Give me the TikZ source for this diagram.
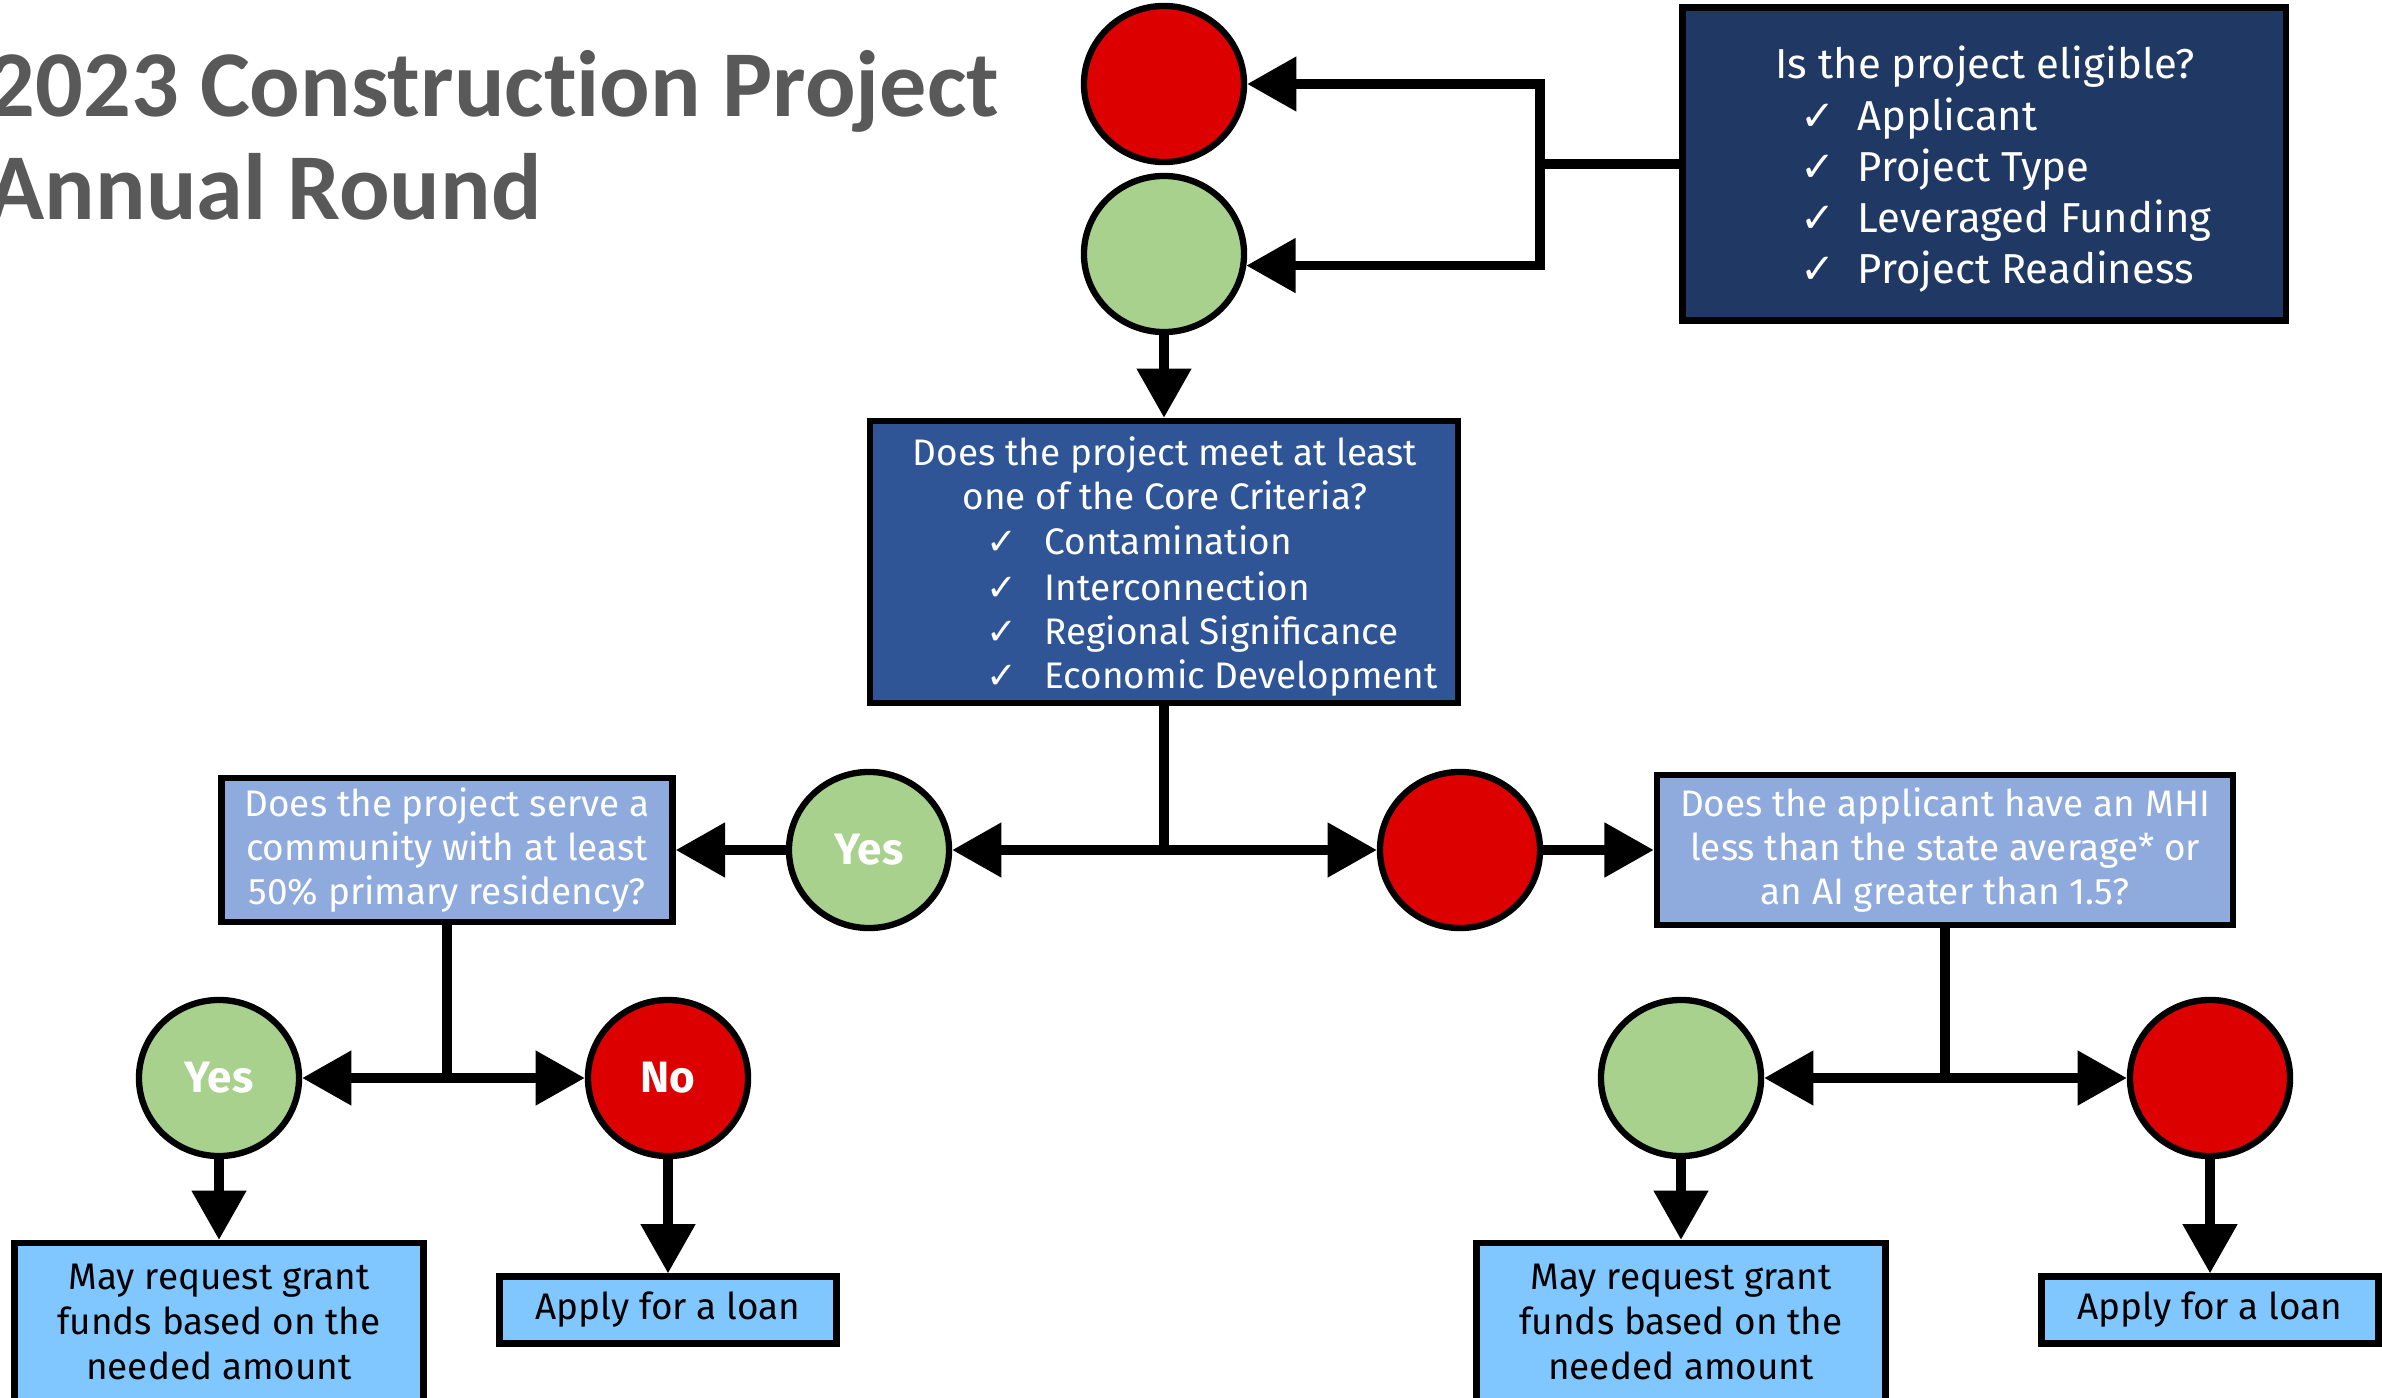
\documentclass[tikz,border=0pt]{standalone}
\usepackage{fontspec}
\setmainfont{Fira Sans}
\newfontfamily\titlefont{Carlito}[Ligatures={NoCommon}]
\newfontfamily\symfont{DejaVu Sans}
\usetikzlibrary{arrows.meta,shapes.geometric,positioning}

\definecolor{navy}{HTML}{203864}
\definecolor{coreblue}{HTML}{2F5597}
\definecolor{paleblue}{HTML}{8FAADC}
\definecolor{skyblue}{HTML}{80C6FF}
\definecolor{okgreen}{HTML}{A9D18E}
\definecolor{nored}{HTML}{DD0000}
\definecolor{titlegrey}{HTML}{595959}

\newcommand{\chk}{{\symfont ✓}}

\tikzset{
  conn/.style={line width=2.6pt},
  arr/.style={conn, -{Triangle[length=14pt,width=15pt]}},
  box/.style={draw=black, line width=1.8pt, rectangle, inner sep=0pt},
  sig/.style={draw=black, line width=1.8pt, ellipse, inner sep=0pt,
    minimum width=1.6cm, minimum height=1.56cm, text=white,
    font=\bfseries\fontsize{12.5}{14}\selectfont},
  title/.style={text=titlegrey, inner sep=0pt,
    font=\titlefont\bfseries\fontsize{26.8}{30}\selectfont},
  eligtext/.style={text=white, inner sep=0pt, font=\fontsize{11.9}{14}\selectfont},
  coretext/.style={text=white, inner sep=0pt, font=\fontsize{10.5}{12.6}\selectfont},
  qbox/.style={box, fill=paleblue, text=white, align=center,
    font=\fontsize{10.5}{12.5}\selectfont},
  endbox/.style={box, fill=skyblue, text=black, align=center,
    font=\fontsize{10.5}{12.66}\selectfont}
}

\begin{document}
\begin{tikzpicture}[x=0.01cm, y=-0.01cm]
  \useasboundingbox (0,0) rectangle (2382,1397);
  \clip (0,0) rectangle (2382,1397);

  % title
  \node[title, anchor=base west] (ttl1) at (-13,117) {2023 Construction Project};
  \node[title, anchor=base west] (ttl2) at (-13,219) {Annual Round};

  % eligibility
  \node[sig, fill=nored] (rtop) at (1164,84) {};
  \node[sig, fill=okgreen] (gtop) at (1164,254) {};
  \node[box, fill=navy, minimum width=6.03cm, minimum height=3.13cm] (elig) at (1984,164) {};
  \node[eligtext, anchor=base] (eligq) at (1985,79) {Is the project eligible?};
  \foreach \y/\crit [count=\i] in {130/Applicant, 182/Project Type, 232/Leveraged Funding, 283/Project Readiness}
    \node[eligtext, anchor=base west] (elig\i) at (1800,\y) {\makebox[0.57cm][l]{\chk}\crit};
  \coordinate (ej) at (1540,164);

  % core criteria
  \node[box, fill=coreblue, minimum width=5.88cm, minimum height=2.82cm] (core) at (1164,562) {};
  \node[coretext, anchor=base] (coreq1) at (1165,465) {Does the project meet at least};
  \node[coretext, anchor=base] (coreq2) at (1165,509) {one of the Core Criteria?};
  \foreach \y/\crit [count=\i] in {554/Contamination, 600/Interconnection, 644/Regional Significance, 688/Economic Development}
    \node[coretext, anchor=base west] (core\i) at (986,\y) {\makebox[0.58cm][l]{\chk}\crit};
  \coordinate (cj) at (1164,850);

  % second row
  \node[sig, fill=okgreen] (yes1) at (869,850) {Yes};
  \node[sig, fill=nored] (red2) at (1460,850) {};
  \node[qbox, minimum width=4.51cm, minimum height=1.44cm] (resid) at (447,850)
    {Does the project serve a\\community with at least\\50\% primary residency?};
  \node[qbox, minimum width=5.76cm, minimum height=1.5cm] (mhi) at (1945,850)
    {Does the applicant have an MHI\\less than the state average* or\\an AI greater than 1.5?};
  \coordinate (lj) at (447,1078);
  \coordinate (rj) at (1945,1078);

  % third row
  \node[sig, fill=okgreen] (yes2) at (219,1078) {Yes};
  \node[sig, fill=nored] (no2) at (668,1078) {No};
  \node[sig, fill=okgreen] (grn3) at (1681,1078) {};
  \node[sig, fill=nored] (red3) at (2210,1078) {};

  % outcomes
  \node[endbox, minimum width=4.09cm, minimum height=1.58cm] (grant1) at (219,1322)
    {May request grant\\funds based on the\\needed amount};
  \node[endbox, minimum width=3.37cm, minimum height=0.67cm] (loan1) at (668,1310) {Apply for a loan};
  \node[endbox, minimum width=4.09cm, minimum height=1.58cm] (grant2) at (1681,1322)
    {May request grant\\funds based on the\\needed amount};
  \node[endbox, minimum width=3.37cm, minimum height=0.67cm] (loan2) at (2210,1310) {Apply for a loan};

  % connectors
  \draw[conn] (elig.west) -- (ej);
  \draw[arr] (ej) |- (rtop.east);
  \draw[arr] (ej) |- (gtop.-8);
  \draw[arr] (gtop) -- (core);
  \draw[conn] (core) -- (cj);
  \draw[arr] (cj) -- (yes1);
  \draw[arr] (cj) -- (red2);
  \draw[arr] (yes1) -- (resid);
  \draw[arr] (red2) -- (mhi);
  \draw[conn] (resid) -- (lj);
  \draw[arr] (lj) -- (yes2);
  \draw[arr] (lj) -- (no2);
  \draw[conn] (mhi) -- (rj);
  \draw[arr] (rj) -- (grn3);
  \draw[arr] (rj) -- (red3);
  \draw[arr] (yes2) -- (grant1);
  \draw[arr] (no2) -- (loan1);
  \draw[arr] (grn3) -- (grant2);
  \draw[arr] (red3) -- (loan2);
\end{tikzpicture}
\end{document}
